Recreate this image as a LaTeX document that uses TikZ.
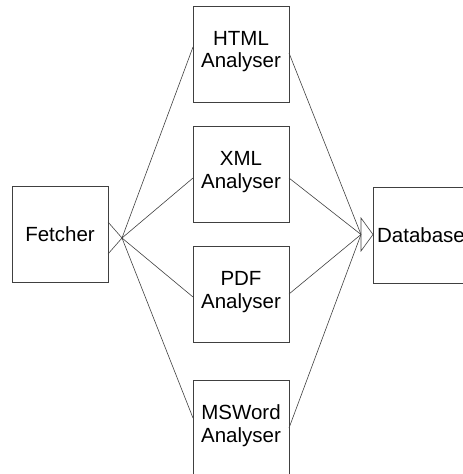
\documentclass[tikz,border=0pt]{standalone}
\usepackage{fontspec}
\setmainfont{Liberation Sans}
\begin{document}
\begin{tikzpicture}[x=1pt,y=-1pt,
  box/.style={draw=black!75,line width=0.8pt,minimum width=96pt,minimum height=96pt,inner sep=0pt},
  lbl/.style={font=\fontsize{20.5pt}{22.5pt}\selectfont,align=center,inner sep=0pt},
  conn/.style={draw=black!75,line width=0.6pt}]
\useasboundingbox (0,0) rectangle (463,474);
\begin{scope}
\clip (0,0) rectangle (463,474);
\node[box] (fetcher) at (60,234) {};
\node[lbl] at (fetcher.center) {Fetcher};
\node[box] (html) at (241,54) {};
\node[lbl] at ([yshift=2.5pt]html.center) {HTML\\Analyser};
\node[box] (xml) at (241,174.5) {};
\node[lbl] at ([yshift=2.5pt]xml.center) {XML\\Analyser};
\node[box] (pdf) at (241,294.5) {};
\node[lbl] at ([yshift=2.5pt]pdf.center) {PDF\\Analyser};
\node[box] (msword) at (241,428) {};
\node[lbl] at ([yshift=2.5pt]msword.center) {MSWord\\Analyser};
\node[box] (db) at (421,235) {};
\node[lbl] at (db.center) {Database};

% fetcher tail
\coordinate (fa) at (122,238);
\coordinate (fu) at (108,222);
\coordinate (fd) at (108,254);
\draw[conn] (fu) -- (fa) -- (fd);
% database head
\coordinate (dj) at (361,234.5);
\coordinate (dt) at (361,218);
\coordinate (db2) at (361,251);
\coordinate (dp) at (373,234.5);
\draw[conn] (dt) -- (dp) -- (db2) -- cycle;

% analyser ports
\coordinate (hin) at (193,47);  \coordinate (hout) at (289,53);
\coordinate (xin) at (193,178); \coordinate (xout) at (289,178);
\coordinate (pin) at (193,297); \coordinate (pout) at (289,294);
\coordinate (min) at (193,418); \coordinate (mout) at (289,428);

\draw[conn] (fa) -- (hin);
\draw[conn] (fa) -- (xin);
\draw[conn] (fa) -- (pin);
\draw[conn] (fa) -- (min);
\draw[conn] (hout) -- (dj);
\draw[conn] (xout) -- (dj);
\draw[conn] (pout) -- (dj);
\draw[conn] (mout) -- (dj);
\end{scope}
\end{tikzpicture}
\end{document}
